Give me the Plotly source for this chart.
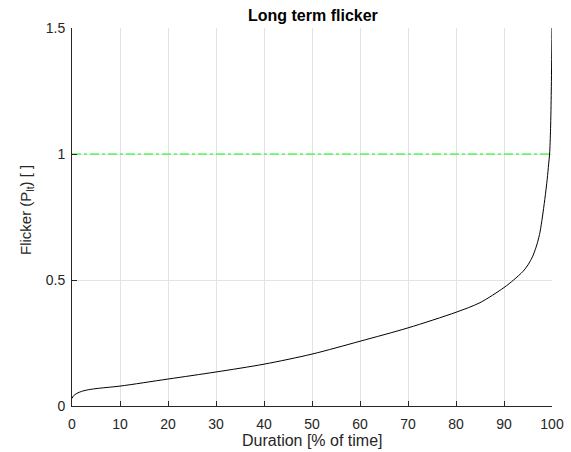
import plotly.graph_objects as go

duration = [0, 0.3, 1, 2, 3, 5, 10, 20, 30, 40, 50, 60, 70, 80, 85, 90, 92, 94, 95, 96, 96.5, 97, 97.5, 98, 98.5, 99, 99.3, 99.5, 99.7, 99.85, 100]
flicker = [0.03, 0.04, 0.05, 0.058, 0.063, 0.069, 0.079, 0.107, 0.135, 0.166, 0.206, 0.257, 0.31, 0.372, 0.41, 0.47, 0.5, 0.535, 0.56, 0.595, 0.62, 0.65, 0.69, 0.75, 0.82, 0.9, 0.96, 1.0, 1.1, 1.25, 1.5]
limit_x = [0, 100]
limit_y = [1, 1]

axis_color = "#262626"
font_family = "Liberation Sans, Arial, sans-serif"

fig = go.Figure()
fig.add_trace(go.Scatter(x=limit_x, y=limit_y, mode="lines",
                         line=dict(color="#00ff00", width=1, dash="dashdot"),
                         showlegend=False))
fig.add_trace(go.Scatter(x=duration, y=flicker, mode="lines", line_shape="spline",
                         line=dict(color="black", width=1, smoothing=0.8), showlegend=False))

fig.update_layout(
    width=571, height=452,
    margin=dict(l=72, r=19, t=28, b=46, autoexpand=False),
    paper_bgcolor="white", plot_bgcolor="white",
    font=dict(family=font_family, color=axis_color, size=14),
    annotations=[
        dict(text="<b>Long term flicker</b>", xref="paper", yref="paper",
             x=(313 - 72) / 480, y=(452 - 46 - 16) / 378, xanchor="center", yanchor="middle",
             showarrow=False, font=dict(size=16, color="black")),
        dict(text="Duration [% of time]", xref="paper", yref="paper",
             x=(312 - 72) / 480, y=(406 - 440) / 378, xanchor="center", yanchor="middle",
             showarrow=False, font=dict(size=16, color=axis_color)),
        dict(text="Flicker (P<sub>lt</sub>) [ ]", xref="paper", yref="paper",
             x=(26 - 72) / 480, y=(406 - 210) / 378, xanchor="center", yanchor="middle",
             textangle=-90, showarrow=False, font=dict(size=15, color=axis_color)),
    ],
)
fig.update_xaxes(range=[0, 100], tickvals=list(range(0, 101, 10)),
                 showline=True, linecolor=axis_color, linewidth=1,
                 ticks="inside", ticklen=5, tickcolor=axis_color,
                 showgrid=True, gridcolor="#e3e3e3", gridwidth=1,
                 zeroline=False, tickfont=dict(size=14), automargin=False,
                 ticklabelstandoff=5)
fig.update_yaxes(range=[0, 1.5], tickvals=[0, 0.5, 1, 1.5],
                 ticktext=["0", "0.5", "1", "1.5"],
                 showline=True, linecolor=axis_color, linewidth=1,
                 ticks="inside", ticklen=5, tickcolor=axis_color,
                 showgrid=True, gridcolor="#e3e3e3", gridwidth=1,
                 zeroline=False, tickfont=dict(size=14), automargin=False,
                 ticklabelstandoff=3)

fig.write_html("out.html", config={"displayModeBar": False},
               post_script="document.body.style.margin='0';document.body.style.overflow='hidden';")
